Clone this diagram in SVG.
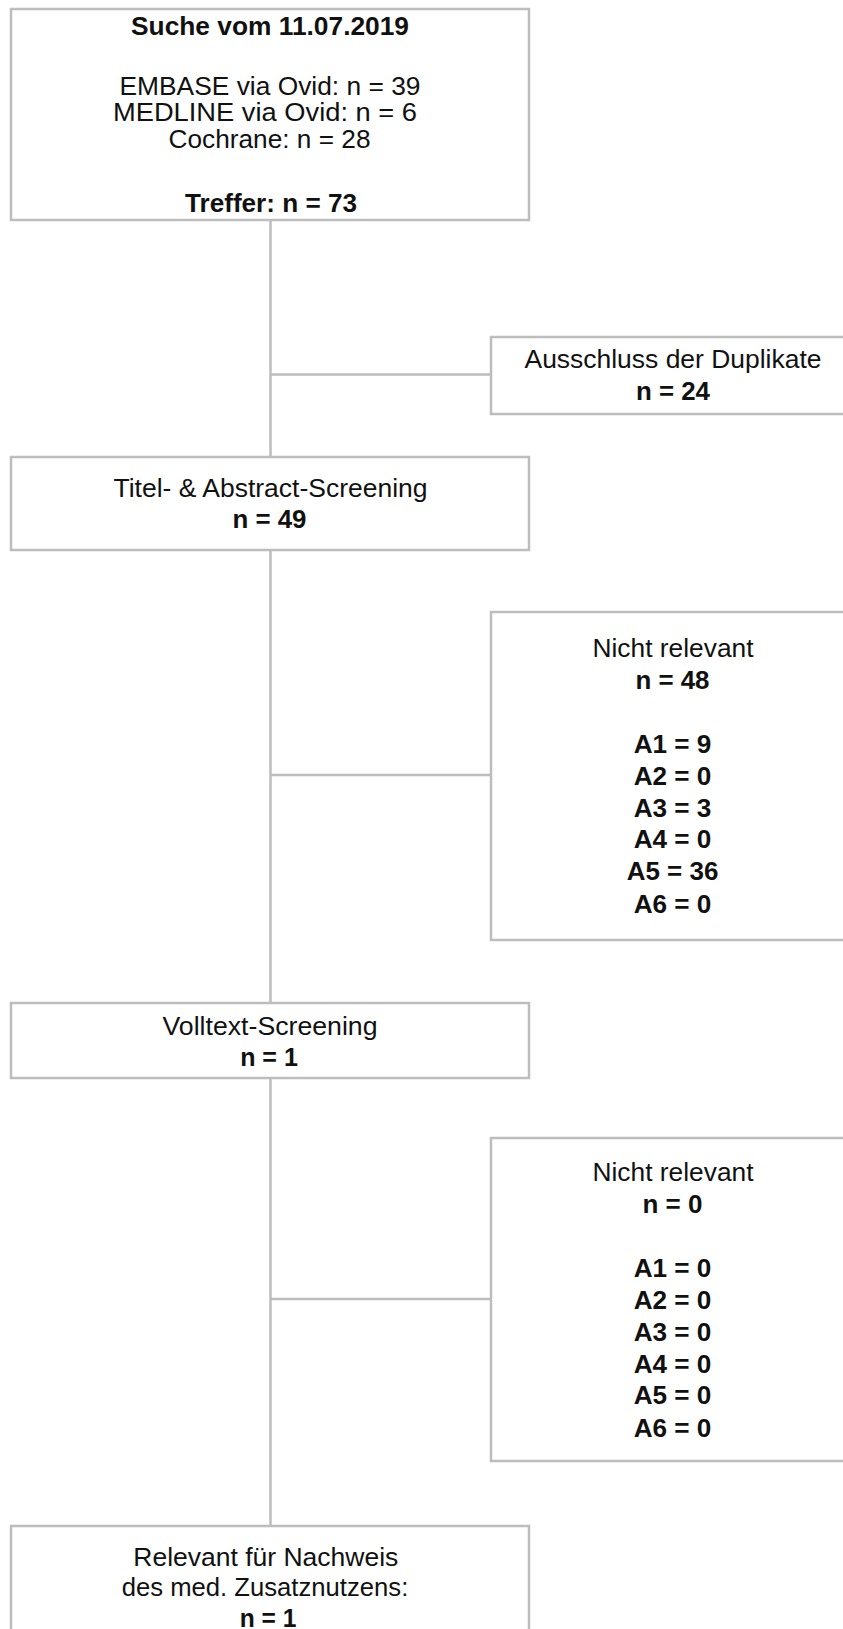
<svg xmlns="http://www.w3.org/2000/svg" width="843" height="1629" viewBox="0 0 843 1629">
<style>
.box{fill:#ffffff;stroke:#bdbdbd;stroke-width:2.5}
.con{fill:none;stroke:#bdbdbd;stroke-width:2.5}
text{font-family:"Liberation Sans",Arial,sans-serif;font-size:25.5px;fill:#111111;text-anchor:middle}
.b{font-weight:bold}
</style>
<rect width="843" height="1629" fill="#ffffff"/>
<g id="connectors">
<line class="con" x1="270.5" y1="220" x2="270.5" y2="457"/>
<line class="con" x1="270.5" y1="374.5" x2="491" y2="374.5"/>
<line class="con" x1="270.5" y1="550" x2="270.5" y2="1003"/>
<line class="con" x1="270.5" y1="775" x2="491" y2="775"/>
<line class="con" x1="270.5" y1="1078" x2="270.5" y2="1526"/>
<line class="con" x1="270.5" y1="1299" x2="491" y2="1299"/>
</g>
<g id="search">
<rect class="box" x="11" y="9" width="518" height="211"/>
<text class="b" x="270" y="35" textLength="278" lengthAdjust="spacingAndGlyphs">Suche vom 11.07.2019</text>
<text x="270" y="94.5" textLength="301" lengthAdjust="spacingAndGlyphs">EMBASE via Ovid: n = 39</text>
<text x="265" y="121" textLength="304" lengthAdjust="spacingAndGlyphs">MEDLINE via Ovid: n = 6</text>
<text x="269.5" y="148.3" textLength="202" lengthAdjust="spacingAndGlyphs">Cochrane: n = 28</text>
<text class="b" x="271" y="212.3" textLength="172" lengthAdjust="spacingAndGlyphs">Treffer: n = 73</text>
</g>
<g id="duplicates">
<rect class="box" x="491" y="337" width="370" height="77"/>
<text x="673" y="368.3" textLength="297" lengthAdjust="spacingAndGlyphs">Ausschluss der Duplikate</text>
<text class="b" x="673" y="400" textLength="74" lengthAdjust="spacingAndGlyphs">n = 24</text>
</g>
<g id="title-abstract">
<rect class="box" x="11" y="457" width="518" height="93"/>
<text x="270.5" y="497.3" textLength="314" lengthAdjust="spacingAndGlyphs">Titel- &amp; Abstract-Screening</text>
<text class="b" x="269.5" y="528.3" textLength="74" lengthAdjust="spacingAndGlyphs">n = 49</text>
</g>
<g id="not-relevant-1">
<rect class="box" x="491" y="612" width="370" height="328"/>
<text x="673" y="657.3" textLength="161" lengthAdjust="spacingAndGlyphs">Nicht relevant</text>
<text class="b" x="672.5" y="689" textLength="74" lengthAdjust="spacingAndGlyphs">n = 48</text>
<text class="b" x="672.5" y="753.3" textLength="77.7" lengthAdjust="spacingAndGlyphs">A1 = 9</text>
<text class="b" x="672.5" y="785" textLength="77.7" lengthAdjust="spacingAndGlyphs">A2 = 0</text>
<text class="b" x="672.5" y="816.7" textLength="77.7" lengthAdjust="spacingAndGlyphs">A3 = 3</text>
<text class="b" x="672.5" y="848.3" textLength="77.7" lengthAdjust="spacingAndGlyphs">A4 = 0</text>
<text class="b" x="672.5" y="880" textLength="91.7" lengthAdjust="spacingAndGlyphs">A5 = 36</text>
<text class="b" x="672.5" y="912.7" textLength="77.7" lengthAdjust="spacingAndGlyphs">A6 = 0</text>
</g>
<g id="fulltext">
<rect class="box" x="11" y="1003" width="518" height="75"/>
<text x="270" y="1035" textLength="215" lengthAdjust="spacingAndGlyphs">Volltext-Screening</text>
<text class="b" x="269" y="1066" textLength="57.7" lengthAdjust="spacingAndGlyphs">n = 1</text>
</g>
<g id="not-relevant-2">
<rect class="box" x="491" y="1138" width="370" height="323"/>
<text x="673" y="1181" textLength="161" lengthAdjust="spacingAndGlyphs">Nicht relevant</text>
<text class="b" x="672.5" y="1213.3" textLength="60" lengthAdjust="spacingAndGlyphs">n = 0</text>
<text class="b" x="672.5" y="1276.7" textLength="77.7" lengthAdjust="spacingAndGlyphs">A1 = 0</text>
<text class="b" x="672.5" y="1309" textLength="77.7" lengthAdjust="spacingAndGlyphs">A2 = 0</text>
<text class="b" x="672.5" y="1340.7" textLength="77.7" lengthAdjust="spacingAndGlyphs">A3 = 0</text>
<text class="b" x="672.5" y="1372.7" textLength="77.7" lengthAdjust="spacingAndGlyphs">A4 = 0</text>
<text class="b" x="672.5" y="1404.3" textLength="77.7" lengthAdjust="spacingAndGlyphs">A5 = 0</text>
<text class="b" x="672.5" y="1436.7" textLength="77.7" lengthAdjust="spacingAndGlyphs">A6 = 0</text>
</g>
<g id="relevant">
<rect class="box" x="11" y="1526" width="518" height="200"/>
<text x="265.8" y="1565.7" textLength="265" lengthAdjust="spacingAndGlyphs">Relevant für Nachweis</text>
<text x="265" y="1595.7" textLength="286.7" lengthAdjust="spacingAndGlyphs">des med. Zusatznutzens:</text>
<text class="b" x="268" y="1627" textLength="56.7" lengthAdjust="spacingAndGlyphs">n = 1</text>
</g>
</svg>
